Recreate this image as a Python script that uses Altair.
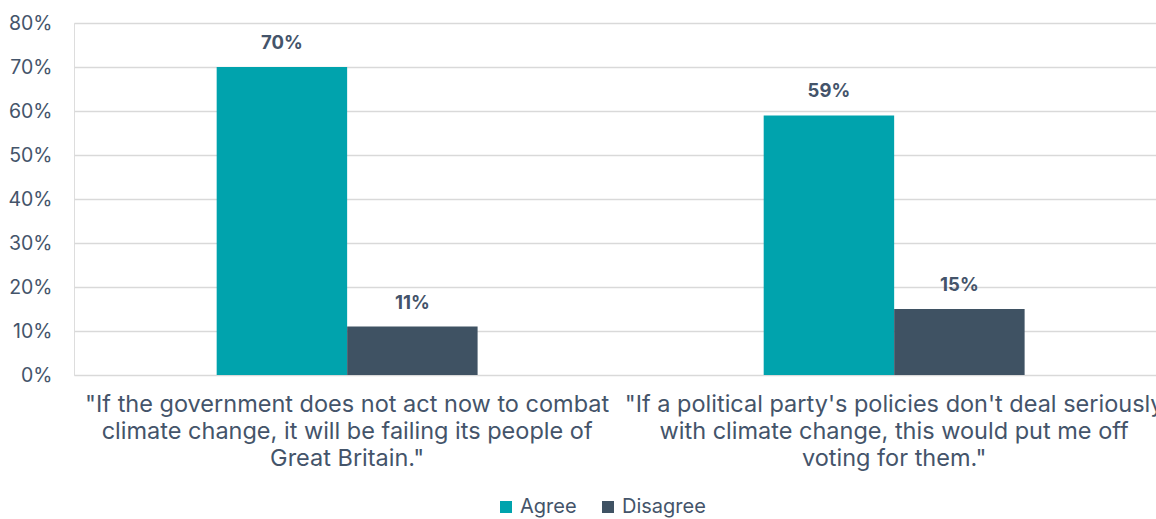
import altair as alt
import pandas as pd

statements = [
    "\"If the government does not act now to combat\nclimate change, it will be failing its people of\nGreat Britain.\"",
    "\"If a political party's policies don't deal seriously\nwith climate change, this would put me off\nvoting for them.\"",
]
responses = ["Agree", "Disagree"]
agree = [0.70, 0.59]
disagree = [0.11, 0.15]
colors = ["#00A3AD", "#3F5263"]
y_ticks = [0, 0.1, 0.2, 0.3, 0.4, 0.5, 0.6, 0.7, 0.8]

rows = []
for s, a, d in zip(statements, agree, disagree):
    rows.append({"statement": s, "response": "Agree", "value": a})
    rows.append({"statement": s, "response": "Disagree", "value": d})
df = pd.DataFrame(rows)

FONT = "Inter"
TXT = "#44546A"

x = alt.X("statement:N", sort=statements, title=None,
          scale=alt.Scale(paddingInner=0.523, paddingOuter=0.2505, align=0.5206),
          axis=alt.Axis(labelAngle=0, labelExpr="split(datum.label, '\\n')",
                        labelFontSize=23.5, labelLineHeight=27, labelColor=TXT,
                        labelFont=FONT, labelPadding=17, labelLimit=2000,
                        labelBound=False, labelFlush=False,
                        ticks=False, domain=False))
xoff = alt.XOffset("response:N", sort=responses,
                   scale=alt.Scale(paddingInner=0, paddingOuter=0))
y = alt.Y("value:Q", title=None,
          scale=alt.Scale(domain=[0, 0.8], nice=False),
          axis=alt.Axis(format=".0%", values=y_ticks, labelOverlap=False,
                        labelFontSize=19.5, labelColor=TXT, labelFont=FONT,
                        labelPadding=22, ticks=False, domain=False,
                        gridColor="#D9D9D9", gridWidth=1.5))
color = alt.Color("response:N", sort=responses,
                  scale=alt.Scale(domain=responses, range=colors),
                  legend=alt.Legend(title=None, orient="none", direction="horizontal",
                                    legendX=422, legendY=474, symbolType="square",
                                    symbolSize=144, symbolStrokeWidth=0,
                                    labelFontSize=20, labelColor=TXT, labelFont=FONT,
                                    columnPadding=21, labelOffset=4))

bars = alt.Chart(df).mark_bar().encode(x=x, xOffset=xoff, y=y, color=color)
labels = alt.Chart(df).mark_text(dy=-24, fontSize=18.5, fontWeight="bold",
                                 color=TXT, font=FONT).encode(
    x=x, xOffset=xoff, y=y, text=alt.Text("value:Q", format=".0%"))

chart = (bars + labels).properties(
    width=1082, height=352,
    autosize=alt.AutoSizeParams(type="none"),
    padding={"left": 74, "top": 23, "right": 0, "bottom": 144},
).configure_view(stroke=None).configure(background="white")

chart.save("out.html", embed_options={"renderer": "svg", "actions": False})
